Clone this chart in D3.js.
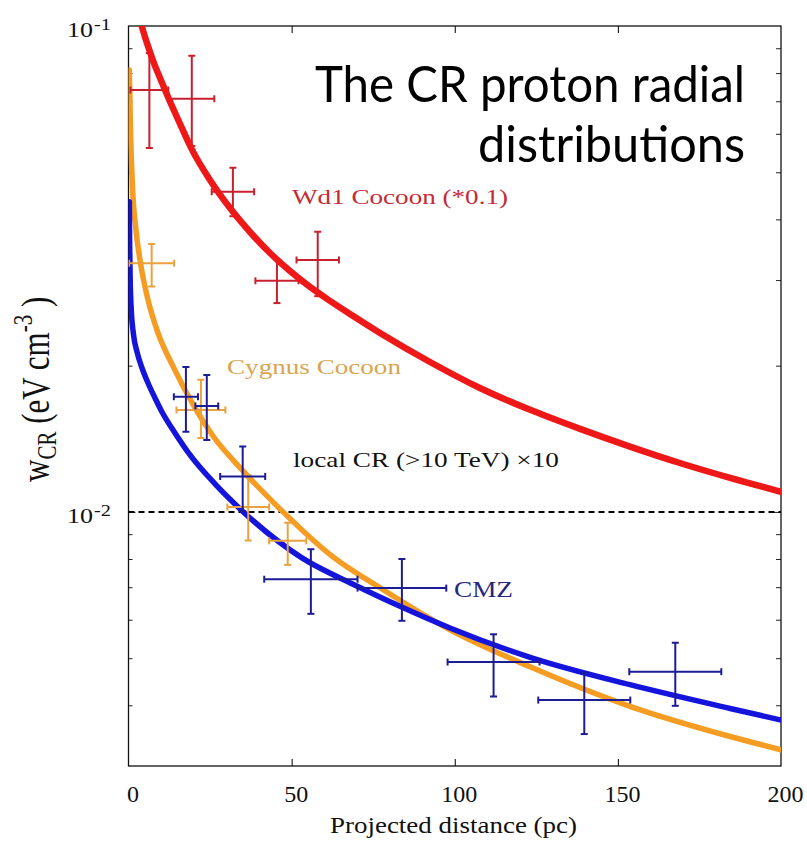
<!DOCTYPE html>
<html>
<head>
<meta charset="utf-8">
<script src="https://cdn.jsdelivr.net/npm/d3@7"></script>
<style>
  body { margin: 0; background: #fff; }
  svg { display: block; }
</style>
</head>
<body>
<svg id="chart" width="807" height="849"></svg>
<script>
// ---- data ----
// x axis: projected distance (pc)
const xTickValues = [0, 50, 100, 150, 200];
const xInnerTicks = [50, 100, 150];
// y axis: w_CR (eV cm^-3), logarithmic
const yDomain = [0.003, 0.1];
const yDecades = [0.1, 0.01];
const yDecadeExponents = ["-1", "-2"];
const yMinorTicks = [0.004, 0.005, 0.006, 0.007, 0.008, 0.009,
                     0.02, 0.03, 0.04, 0.05, 0.06, 0.07, 0.08, 0.09];
// local CR density (>10 TeV) x10
const localCRLevel = 0.01;

// measured points: [r, rErr, w, wLow, wHigh]
const wd1Points = [
  [6.4, 5.8, 0.0738, 0.0561, 0.0880],
  [19.4, 6.9, 0.0708, 0.0566, 0.0868],
  [32.0, 6.5, 0.0456, 0.0406, 0.0511],
  [45.5, 6.6, 0.0299, 0.0269, 0.0330],
  [58.0, 6.5, 0.0330, 0.0278, 0.0377]
];
const cygnusPoints = [
  [7.1, 6.9, 0.0325, 0.0291, 0.0356],
  [22.2, 7.5, 0.0162, 0.0142, 0.0187],
  [36.7, 6.4, 0.01024, 0.00873, 0.0119],
  [48.8, 5.7, 0.00872, 0.00778, 0.0095]
];
const cmzPoints = [
  [17.6, 3.7, 0.01726, 0.01462, 0.01988],
  [24.0, 3.5, 0.01652, 0.01406, 0.01914],
  [35.0, 6.9, 0.01183, 0.01003, 0.01363],
  [55.9, 14.3, 0.00727, 0.00617, 0.00838],
  [83.8, 13.6, 0.00697, 0.00597, 0.00800],
  [111.9, 14.1, 0.00491, 0.00417, 0.00560],
  [139.7, 14.1, 0.00410, 0.00349, 0.00467],
  [167.6, 14.1, 0.00469, 0.00399, 0.00538]
];

// model profiles: [r, w]
const wd1Curve = [
  [4.05, 0.1], [5.06, 0.0949], [6.59, 0.0884], [8.12, 0.0828], [9.66, 0.0782],
  [12.11, 0.0714], [15.79, 0.0629], [19.37, 0.0558], [24.98, 0.0482],
  [31.11, 0.0422], [37.24, 0.03768], [43.37, 0.0341], [49.5, 0.03131],
  [55.63, 0.02904], [61.76, 0.02718], [67.89, 0.02554], [77.09, 0.02335],
  [92.41, 0.02035], [107.7, 0.01799], [123.1, 0.01622], [138.4, 0.01482],
  [153.7, 0.01363], [169.0, 0.01261], [184.4, 0.01175], [200, 0.0110]
];
const cygnusCurve = [
  [0.25, 0.0812], [0.61, 0.0611], [1.23, 0.0466], [2.30, 0.0380], [3.68, 0.0325],
  [5.98, 0.0273], [9.04, 0.02335], [13.73, 0.01988], [20.38, 0.01637],
  [25.90, 0.01433], [35.10, 0.01215], [47.05, 0.01005], [62.68, 0.00808],
  [77.09, 0.00698], [98.54, 0.00572], [123.1, 0.00480], [153.7, 0.00398],
  [184.4, 0.00345], [200, 0.00324]
];
const cmzCurve = [
  [0.25, 0.0435], [0.34, 0.0363], [0.52, 0.0300], [0.86, 0.0260], [1.47, 0.02335],
  [2.61, 0.02135], [4.14, 0.01978], [5.98, 0.01842], [8.12, 0.01716],
  [10.27, 0.01606], [14.25, 0.01454], [18.85, 0.01310], [26.51, 0.01142],
  [35.19, 0.0100], [52.57, 0.00809], [69.95, 0.00704], [84.23, 0.00635],
  [98.54, 0.00577], [123.1, 0.00502], [153.7, 0.00441], [184.4, 0.00394],
  [200, 0.00373]
];

// ---- layout ----
const plot = { left: 128.5, right: 781, top: 26, bottom: 766 };
const serif = "'Liberation Serif', 'Times New Roman', serif";

const x = d3.scaleLinear().domain([0, 200]).range([plot.left, plot.right]);
const y = d3.scaleLog().domain(yDomain).range([plot.bottom, plot.top]);

const svg = d3.select("#chart");

svg.append("defs").append("clipPath").attr("id", "plot-clip")
  .append("rect")
  .attr("x", plot.left).attr("y", plot.top)
  .attr("width", plot.right - plot.left).attr("height", plot.bottom - plot.top);

// ---- axes ----
const bottomAxis = svg.append("g")
  .attr("transform", `translate(0,${plot.bottom})`)
  .call(d3.axisBottom(x).tickValues(xTickValues).tickSize(-7).tickSizeOuter(0)
    .tickPadding(19).tickFormat(d3.format("d")));
bottomAxis.select(".domain").remove();
bottomAxis.selectAll(".tick line").filter(d => d === 0 || d === 200).remove();
bottomAxis.selectAll(".tick text")
  .attr("x", 4)
  .attr("font-family", serif).attr("font-size", 24).attr("fill", "#111");

const topAxis = svg.append("g")
  .attr("transform", `translate(0,${plot.top})`)
  .call(d3.axisTop(x).tickValues(xInnerTicks).tickSize(-7).tickSizeOuter(0).tickFormat(""));
topAxis.select(".domain").remove();

function yTicks(axisFn, xPos, values, len) {
  const g = svg.append("g")
    .attr("transform", `translate(${xPos},0)`)
    .call(axisFn(y).tickValues(values).tickSize(-len).tickSizeOuter(0).tickFormat(""));
  g.select(".domain").remove();
  g.selectAll(".tick line").attr("stroke", "#222");
}
yTicks(d3.axisLeft, plot.left, yMinorTicks, 4);
yTicks(d3.axisLeft, plot.left, [0.01], 7);
yTicks(d3.axisRight, plot.right, yMinorTicks, 5);
yTicks(d3.axisRight, plot.right, [0.01], 7);

// decade labels 10^-1, 10^-2
yDecades.forEach((v, i) => {
  const yy = y(v);
  svg.append("text")
    .attr("x", 67).attr("y", yy + 11)
    .attr("font-family", serif).attr("font-size", 21).attr("fill", "#111")
    .attr("textLength", 26).attr("lengthAdjust", "spacingAndGlyphs")
    .text("10");
  svg.append("text")
    .attr("x", 94).attr("y", yy + 4)
    .attr("font-family", serif).attr("font-size", 17).attr("fill", "#111")
    .attr("textLength", 17).attr("lengthAdjust", "spacingAndGlyphs")
    .text(yDecadeExponents[i]);
});

// frame
svg.append("rect")
  .attr("x", plot.left).attr("y", plot.top)
  .attr("width", plot.right - plot.left).attr("height", plot.bottom - plot.top)
  .attr("fill", "none").attr("stroke", "#111").attr("stroke-width", 1.3);

// axis titles
svg.append("text")
  .attr("x", 330).attr("y", 833)
  .attr("font-family", serif).attr("font-size", 23).attr("fill", "#111")
  .attr("textLength", 247).attr("lengthAdjust", "spacingAndGlyphs")
  .text("Projected distance (pc)");

const yTitle = svg.append("text")
  .attr("transform", "translate(49,482) scale(1.3,1) rotate(-90)")
  .attr("font-family", serif).attr("font-size", 31).attr("fill", "#111");
yTitle.append("tspan").text("w");
yTitle.append("tspan").attr("font-size", 21).attr("dy", 5).text("CR");
yTitle.append("tspan").attr("dy", -5).text(" (eV cm");
yTitle.append("tspan").attr("font-size", 21).attr("dy", -13).text("-3");
yTitle.append("tspan").attr("dy", 13).text(" )");

// ---- plot content ----
const content = svg.append("g").attr("clip-path", "url(#plot-clip)");

// local CR reference level
content.append("line")
  .attr("x1", x(0)).attr("x2", x(200))
  .attr("y1", y(localCRLevel)).attr("y2", y(localCRLevel))
  .attr("stroke", "#000").attr("stroke-width", 2).attr("stroke-dasharray", "6,4");

const line = d3.line().x(d => x(d[0])).y(d => y(d[1])).curve(d3.curveMonotoneX);

function drawCurve(data, color, width) {
  content.append("path").datum(data)
    .attr("d", line).attr("fill", "none")
    .attr("stroke", color).attr("stroke-width", width)
    .attr("stroke-linejoin", "round").attr("stroke-linecap", "round");
}

function drawPoints(data, color) {
  const cap = 3.5;
  const g = content.append("g").attr("stroke", color).attr("stroke-width", 2).attr("fill", "none");
  data.forEach(([r, dr, w, lo, hi]) => {
    const cx = x(r), cy = y(w);
    const x0 = x(r - dr), x1 = x(r + dr);
    const y0 = y(lo), y1 = y(hi);
    g.append("line").attr("x1", x0).attr("x2", x1).attr("y1", cy).attr("y2", cy);
    g.append("line").attr("x1", x0).attr("x2", x0).attr("y1", cy - cap).attr("y2", cy + cap);
    g.append("line").attr("x1", x1).attr("x2", x1).attr("y1", cy - cap).attr("y2", cy + cap);
    g.append("line").attr("x1", cx).attr("x2", cx).attr("y1", y0).attr("y2", y1);
    g.append("line").attr("x1", cx - cap).attr("x2", cx + cap).attr("y1", y0).attr("y2", y0);
    g.append("line").attr("x1", cx - cap).attr("x2", cx + cap).attr("y1", y1).attr("y2", y1);
  });
}

drawCurve(cygnusCurve, "#f59c22", 5.5);
drawCurve(cmzCurve, "#1414dc", 5.5);
drawPoints(cygnusPoints, "#eba23e");
drawPoints(cmzPoints, "#1c1c96");
drawPoints(wd1Points, "#c8202e");
drawCurve(wd1Curve, "#ee1818", 6.5);

// ---- series labels ----
function label(txt, xPos, yPos, len, size, color) {
  svg.append("text")
    .attr("x", xPos).attr("y", yPos)
    .attr("font-family", serif).attr("font-size", size).attr("fill", color)
    .attr("textLength", len).attr("lengthAdjust", "spacingAndGlyphs")
    .text(txt);
}
label("Wd1 Cocoon (*0.1)", 292, 204, 216, 22, "#c42a34");
label("Cygnus Cocoon", 227, 374, 174, 22, "#d8a550");
label("local CR (>10 TeV) \u00d710", 293, 467, 266, 22, "#111");
label("CMZ", 454, 597, 59, 24, "#26267e");

// ---- title ----
function titleLine(txt, xPos, yPos, len) {
  svg.append("text")
    .attr("x", xPos).attr("y", yPos)
    .attr("font-family", "Lato, 'Open Sans', sans-serif").attr("font-size", 50).attr("fill", "#000")
    .attr("textLength", len).attr("lengthAdjust", "spacingAndGlyphs")
    .text(txt);
}
titleLine("The CR proton radial", 315, 102, 430);
titleLine("distributions", 478, 162, 267);
</script>
</body>
</html>
